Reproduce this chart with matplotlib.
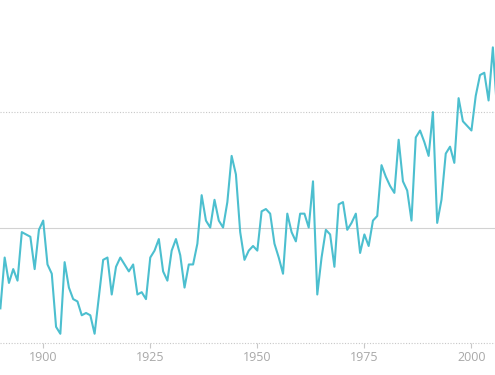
import numpy as np
import matplotlib.pyplot as plt

plt.rcParams['font.family'] = ['Open Sans', 'DejaVu Sans']

years = list(range(1890, 2007))
anomaly = [
    -0.35, -0.13, -0.24, -0.18, -0.23, -0.02, -0.03, -0.04, -0.18, -0.01,  # 1890s
    0.03, -0.16, -0.20, -0.43, -0.46, -0.15, -0.26, -0.31, -0.32, -0.38,   # 1900s
    -0.37, -0.38, -0.46, -0.30, -0.14, -0.13, -0.29, -0.17, -0.13, -0.16,  # 1910s
    -0.19, -0.16, -0.29, -0.28, -0.31, -0.13, -0.10, -0.05, -0.19, -0.23,  # 1920s
    -0.10, -0.05, -0.12, -0.26, -0.16, -0.16, -0.07, 0.14, 0.03, 0.00,     # 1930s
    0.12, 0.03, 0.00, 0.11, 0.31, 0.23, -0.02, -0.14, -0.10, -0.08,        # 1940s
    -0.10, 0.07, 0.08, 0.06, -0.07, -0.13, -0.20, 0.06, -0.02, -0.06,      # 1950s
    0.06, 0.06, 0.00, 0.20, -0.29, -0.13, -0.01, -0.03, -0.17, 0.10,       # 1960s
    0.11, -0.01, 0.02, 0.06, -0.11, -0.03, -0.08, 0.03, 0.05, 0.27,        # 1970s
    0.22, 0.18, 0.15, 0.38, 0.20, 0.16, 0.03, 0.39, 0.42, 0.37,            # 1980s
    0.31, 0.50, 0.02, 0.12, 0.32, 0.35, 0.28, 0.56, 0.46, 0.44,            # 1990s
    0.42, 0.57, 0.66, 0.67, 0.55, 0.78, 0.50,                              # 2000s
]
xticks = [1900, 1925, 1950, 1975, 2000]

fig = plt.figure(figsize=(4.95, 3.75), dpi=100)
ax = fig.add_axes([0, 32 / 375, 1, 343 / 375])

# dotted guides at +/-0.5, solid zero line
ax.axhline(0.5, color='#c8c8c8', lw=0.8, ls=(0, (1, 1.5)), zorder=1)
ax.axhline(0, color='#d2d2d2', lw=0.8, zorder=1)
ax.axhline(-0.5, color='#c8c8c8', lw=0.8, ls=(0, (1, 1.5)), zorder=1, clip_on=False)

ax.plot(years, anomaly, color='#4cbfcf', lw=1.5, zorder=3)

ax.set_xlim(1889.91, 2005.5)
ax.set_ylim(-0.5, 0.985)
ax.set_xticks(xticks)
ax.set_yticks([])
ax.tick_params(axis='x', length=3.6, width=0.8, color='#c8c8c8',
               labelcolor='#a8a8a8', labelsize=9, pad=2)
for s in ax.spines.values():
    s.set_visible(False)

fig.savefig('out.png', dpi=100)
